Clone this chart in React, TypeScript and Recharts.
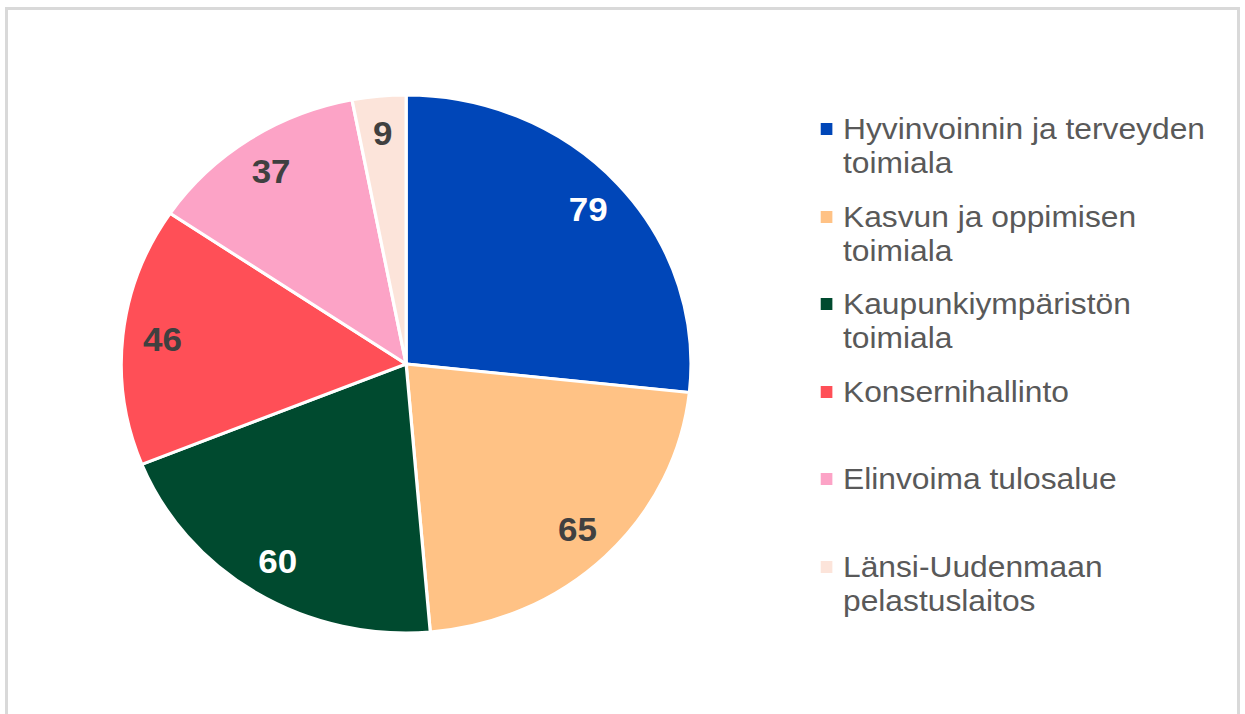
import React from 'react';
import { PieChart, Pie, Cell, Legend } from 'recharts';

const categories = [
  'Hyvinvoinnin ja terveyden toimiala',
  'Kasvun ja oppimisen toimiala',
  'Kaupunkiympäristön toimiala',
  'Konsernihallinto',
  'Elinvoima tulosalue',
  'Länsi-Uudenmaan pelastuslaitos',
];
const values = [79, 65, 60, 46, 37, 9];
const colors = ['#0046B8', '#FFC285', '#004A2F', '#FF4F57', '#FCA3C6', '#FCE4DA'];
const labelColors = ['#FFFFFF', '#404040', '#FFFFFF', '#404040', '#404040', '#404040'];

const data = categories.map((name, i) => ({ name, value: values[i] }));

const SX = 1.059;
const W = 1176;
const H = 714;
const RAD = Math.PI / 180;

const renderLabel = (props: any) => {
  const { cx, cy, midAngle, outerRadius, value, index } = props;
  const r = outerRadius * 0.86;
  const x = cx + r * Math.cos(-midAngle * RAD);
  const y = cy + r * Math.sin(-midAngle * RAD);
  return (
    <text
      x={x}
      y={y}
      fill={labelColors[index]}
      textAnchor="middle"
      dominantBaseline="central"
      style={{ fontFamily: 'Liberation Sans, Arial, sans-serif', fontSize: 33, fontWeight: 700 }}
    >
      {value}
    </text>
  );
};

const renderLegend = () => {
  return (
    <div style={{ position: 'relative', width: 390, height: 560 }}>
      {categories.map((name, i) => (
        <div
          key={name}
          style={{
            position: 'absolute',
            left: 0,
            top: i * 87.6,
            display: 'flex',
            alignItems: 'flex-start',
          }}
        >
          <div
            style={{
              width: 11,
              height: 12,
              background: colors[i],
              marginTop: 11,
              marginRight: 10,
              flex: '0 0 auto',
            }}
          />
          <div
            style={{
              width: 370,
              fontFamily: 'Liberation Sans, Arial, sans-serif',
              fontSize: 30,
              lineHeight: '34px',
              color: '#595959',
              textAlign: 'left',
            }}
          >
            {name}
          </div>
        </div>
      ))}
    </div>
  );
};

export default function App() {
  return (
    <div
      style={{
        position: 'absolute',
        left: 0,
        top: 0,
        width: 1245,
        height: 714,
        overflow: 'hidden',
        background: '#fff',
      }}
    >
      <div
        style={{
          position: 'absolute',
          left: 5,
          top: 7,
          width: 1235,
          height: 730,
          border: '3px solid #D9D9D9',
          boxSizing: 'border-box',
        }}
      />
      <div
        style={{
          position: 'absolute',
          left: 0,
          top: 0,
          width: W,
          height: H,
          transform: `scaleX(${SX})`,
          transformOrigin: '0 0',
        }}
      >
        <PieChart width={W} height={H} margin={{ top: 0, right: 0, bottom: 0, left: 0 }}>
          <Pie
            data={data}
            dataKey="value"
            nameKey="name"
            cx={383.5}
            cy={364}
            outerRadius={269}
            startAngle={90}
            endAngle={-270}
            stroke="#FFFFFF"
            strokeWidth={3}
            label={renderLabel}
            labelLine={false}
            isAnimationActive={false}
          >
            {data.map((d, i) => (
              <Cell key={d.name} fill={colors[i]} />
            ))}
          </Pie>
          <Legend
            layout="vertical"
            align="right"
            verticalAlign="top"
            content={renderLegend}
            wrapperStyle={{ position: 'absolute', left: 775, top: 112, width: 390 }}
          />
        </PieChart>
      </div>
    </div>
  );
}
